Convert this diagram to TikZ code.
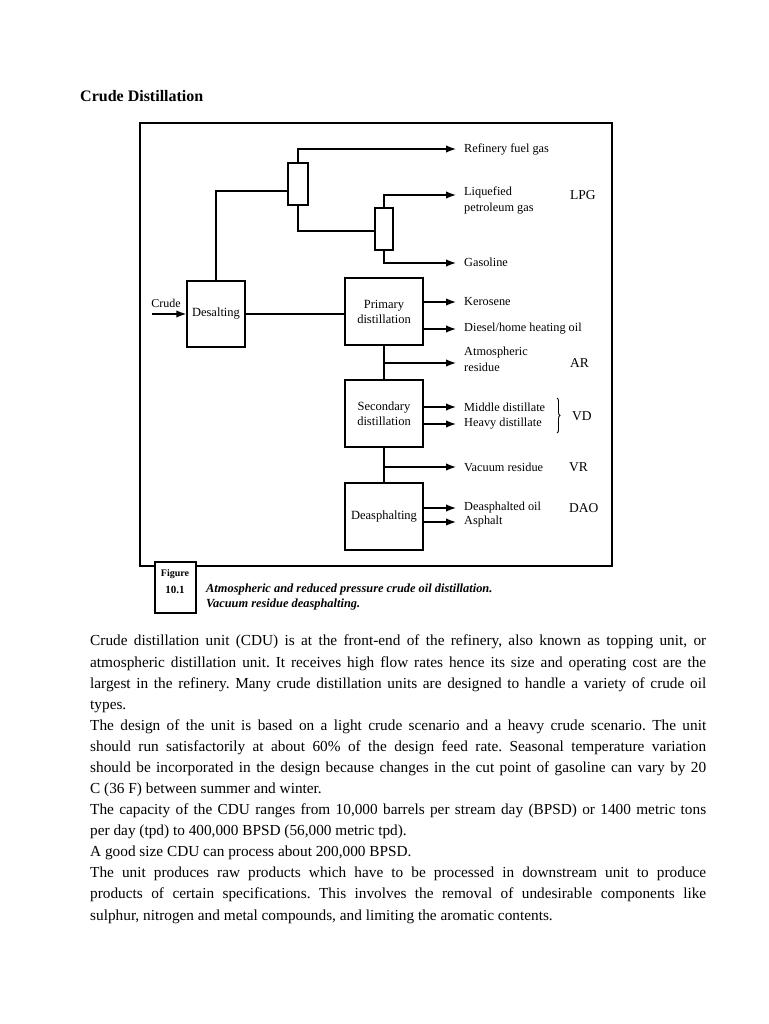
\documentclass[tikz,border=0pt]{standalone}
\usepackage{fontspec}
\setmainfont{Liberation Serif}
\usetikzlibrary{arrows.meta,decorations.pathreplacing,calc}
\begin{document}
\frenchspacing
\begin{tikzpicture}[x=1pt,y=-1pt,
  unit/.style={draw,line width=1.5pt,inner sep=0pt,align=center,font=\fontsize{12.5}{15}\selectfont},
  col/.style={draw,line width=1.4pt,inner sep=0pt,fill=white},
  pipe/.style={line width=1.5pt},
  arr/.style={line width=1.5pt,-{Latex[length=10pt,width=7.5pt]}},
  lbl/.style={anchor=west,inner sep=0pt,align=left,font=\fontsize{12.3}{16}\selectfont},
  abbr/.style={anchor=west,inner sep=0pt,font=\fontsize{13.5}{15}\selectfont},
  frame/.style={draw,line width=1.3pt}
]
\useasboundingbox (0,0) rectangle (768,1024);
\fill[white] (0,0) rectangle (768,1024);

% title
\node[anchor=west,inner sep=0pt,font=\fontsize{16}{18}\bfseries\selectfont] (title) at (80,96) {Crude Distillation};

% frame
\draw[frame] (140,123) rectangle (612,566);

% units
\node[unit,minimum width=58pt,minimum height=66pt] (desalt) at (216,314) {Desalting};
\node[unit,minimum width=78pt,minimum height=67pt] (prim) at (384,311.5) {Primary\\distillation};
\node[unit,minimum width=78pt,minimum height=67pt] (sec) at (384,413.5) {Secondary\\distillation};
\node[unit,minimum width=78pt,minimum height=67pt] (deas) at (384,516.5) {Deasphalting};
\node[col,minimum width=20pt,minimum height=42pt] (col1) at (298,184) {};
\node[col,minimum width=18pt,minimum height=42pt] (col2) at (384,229) {};

% end coordinates
\coordinate (cin) at (152,314);
\coordinate (e1) at (456,149);
\coordinate (e2) at (456,195);
\coordinate (e3) at (456,263);
\coordinate (e4) at (456,302);
\coordinate (e5) at (456,329);
\coordinate (e6) at (456,363);
\coordinate (e7) at (456,407);
\coordinate (e8) at (456,424);
\coordinate (e9) at (456,467);
\coordinate (e10) at (456,508);
\coordinate (e11) at (456,522);

% crude in
\node[anchor=south,inner sep=0pt,font=\fontsize{12}{14}\selectfont] (crude) at (166,308) {Crude};
\draw[arr] (cin) -- (desalt.west);

% overhead
\draw[pipe] (desalt.north) |- ([yshift=-7pt]col1.west);
\draw[arr] (col1.north) |- (e1);
\draw[pipe] (col1.south) |- ([yshift=-2pt]col2.west);
\draw[arr] (col2.north) |- (e2);
\draw[arr] (col2.south) |- (e3);

% main line
\draw[pipe] (desalt.east) -- (desalt.east -| prim.west);
\draw[arr] (prim.east |- e4) -- (e4);
\draw[arr] (prim.east |- e5) -- (e5);
\draw[pipe] (prim.south) -- (sec.north);
\draw[arr] (prim.south |- e6) -- (e6);
\draw[arr] (sec.east |- e7) -- (e7);
\draw[arr] (sec.east |- e8) -- (e8);
\draw[pipe] (sec.south) -- (deas.north);
\draw[arr] (sec.south |- e9) -- (e9);
\draw[arr] (deas.east |- e10) -- (e10);
\draw[arr] (deas.east |- e11) -- (e11);

% labels
\node[lbl] (l1) at (464,149) {Refinery fuel gas};
\node[lbl,anchor=north west] (l2) at (464,187) {Liquefied\\petroleum gas};
\node[lbl] (l3) at (464,262) {Gasoline};
\node[lbl] (l4) at (464,302) {Kerosene};
\node[lbl] (l5) at (464,329) {Diesel/home heating oil};
\node[lbl,anchor=north west] (l6) at (464,347) {Atmospheric\\residue};
\node[lbl] (l7) at (464,407) {Middle distillate};
\node[lbl] (l8) at (464,424) {Heavy distillate};
\node[lbl] (l9) at (464,467) {Vacuum residue};
\node[lbl] (l10) at (464,508) {Deasphalted oil};
\node[lbl] (l11) at (464,522) {Asphalt};

\node[abbr] (a1) at (570,195) {LPG};
\node[abbr] (a2) at (570,363) {AR};
\node[abbr] (a3) at (572,416) {VD};
\node[abbr] (a4) at (569,467) {VR};
\node[abbr] (a5) at (569,508) {DAO};

\coordinate (bt) at (557,398);
\coordinate (bb) at (557,433);
\draw[line width=0.9pt,decorate,decoration={brace,amplitude=3pt}] (bt) -- (bb);

% figure tag
\node[draw,line width=1.2pt,fill=white,minimum width=41pt,minimum height=51pt,inner sep=0pt] (figbox) at (175.5,587.5) {};
\node[inner sep=0pt,font=\fontsize{10}{12}\bfseries\selectfont] (figt) at (175,574) {Figure};
\node[inner sep=0pt,font=\fontsize{11}{13}\bfseries\selectfont] (fign) at (175,590) {10.1};
\node[anchor=west,inner sep=0pt,font=\fontsize{12.4}{14}\bfseries\itshape\selectfont] (cap1) at (206,590) {Atmospheric and reduced pressure crude oil distillation.};
\node[anchor=west,inner sep=0pt,font=\fontsize{12.4}{14}\bfseries\itshape\selectfont] (cap2) at (206,605) {Vacuum residue deasphalting.};

% body text
\node[anchor=north west,inner sep=0pt,text width=616pt,align=justify,font=\fontsize{15.3}{21.08}\selectfont] (body) at (90,635) {%
Crude distillation unit (CDU) is at the front-end of the refinery, also known as topping unit, or\linebreak
atmospheric distillation unit. It receives high flow rates hence its size and operating cost are the\linebreak
largest in the refinery. Many crude distillation units are designed to handle a variety of crude oil\linebreak
types.\hfill\null\linebreak
The design of the unit is based on a light crude scenario and a heavy crude scenario. The unit\linebreak
should run satisfactorily at about 60\% of the design feed rate. Seasonal temperature variation\linebreak
should be incorporated in the design because changes in the cut point of gasoline can vary by 20\linebreak
C (36 F) between summer and winter.\hfill\null\linebreak
The capacity of the CDU ranges from 10,000 barrels per stream day (BPSD) or 1400 metric tons\linebreak
per day (tpd) to 400,000 BPSD (56,000 metric tpd).\hfill\null\linebreak
A good size CDU can process about 200,000 BPSD.\hfill\null\linebreak
The unit produces raw products which have to be processed in downstream unit to produce\linebreak
products of certain specifications. This involves the removal of undesirable components like\linebreak
sulphur, nitrogen and metal compounds, and limiting the aromatic contents.\par};
\end{tikzpicture}
\end{document}
